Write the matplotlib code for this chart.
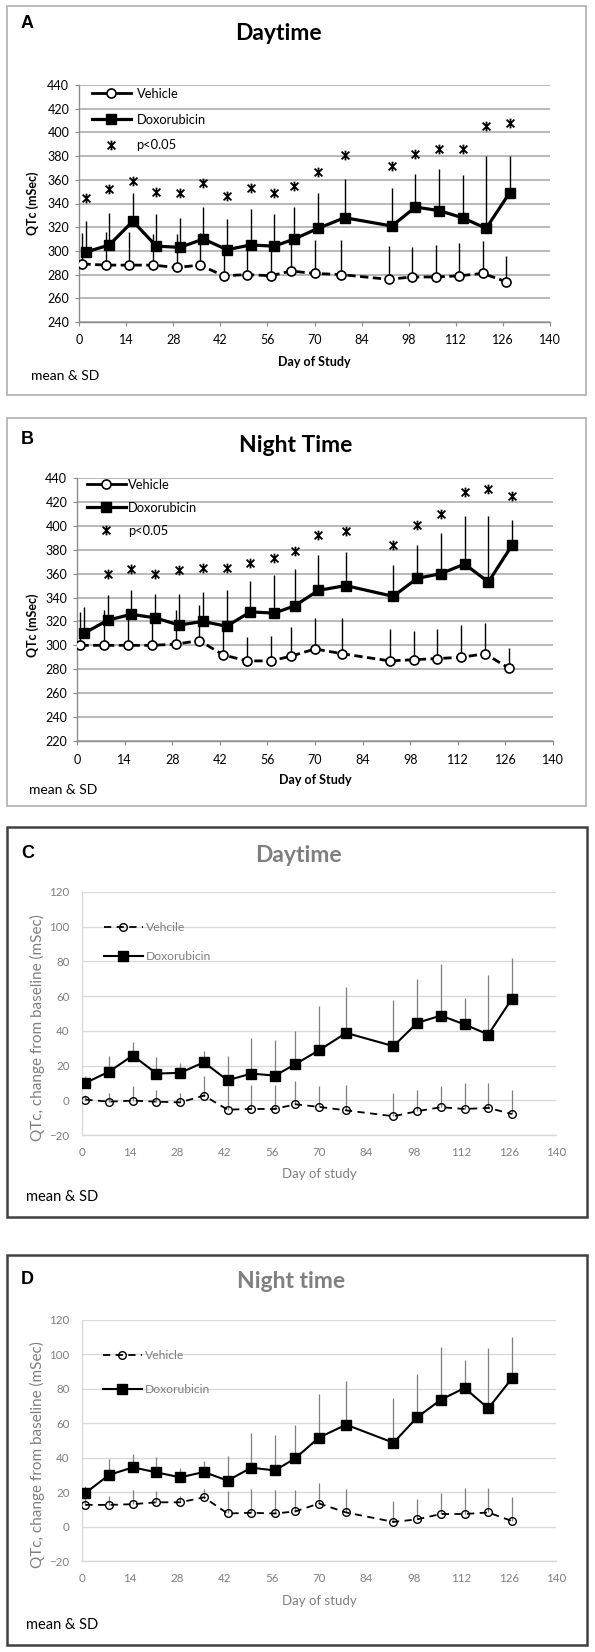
# QTc daytime / night time, 4 panels (A-D)
import matplotlib.pyplot as plt
import numpy as np
from matplotlib.lines import Line2D
from matplotlib.patches import Rectangle
from matplotlib.path import Path

plt.rcParams['font.family'] = ['Lato', 'DejaVu Sans']

# ---- data ----
days_veh = [1, 8, 15, 22, 29, 36, 43, 50, 57, 63, 70, 78, 92, 99, 106, 113, 120, 127]
days_dox = [2, 9, 16, 23, 30, 37, 44, 51, 58, 64, 71, 79, 93, 100, 107, 114, 121, 128]

# A: daytime QTc
a_veh = [289, 288, 288, 288, 286, 288, 279, 280, 279, 283, 281, 280, 276, 278, 278, 279, 281, 274]
a_veh_sd = [26, 28, 28, 26, 28, 27, 21, 24, 24, 24, 28, 29, 28, 25, 27, 28, 27, 22]
a_dox = [299, 305, 325, 304, 303, 310, 301, 305, 304, 310, 319, 328, 321, 337, 334, 328, 319, 349]
a_dox_sd = [26, 27, 24, 27, 25, 27, 26, 30, 27, 27, 30, 33, 32, 28, 35, 36, 61, 31]
a_sig = [345, 352, 359, 350, 349, 357, 346, 353, 349, 355, 367, 381, 372, 382, 386, 386, 405, 408]

# B: night time QTc
b_veh = [300, 300, 300, 300, 301, 304, 292, 287, 287, 291, 297, 293, 287, 288, 289, 290, 293, 281]
b_veh_sd = [28, 30, 25, 25, 29, 30, 23, 20, 21, 24, 26, 30, 27, 24, 25, 27, 26, 17]
b_dox = [310, 321, 326, 323, 317, 320, 316, 328, 327, 333, 346, 350, 341, 356, 360, 368, 353, 384]
b_dox_sd = [22, 21, 20, 20, 26, 25, 30, 26, 32, 31, 30, 28, 26, 28, 34, 40, 55, 21]
b_sig_days = days_dox[1:]
b_sig = [360, 364, 360, 363, 365, 365, 369, 373, 379, 392, 396, 384, 401, 410, 428, 431, 425]

# C: daytime change from baseline
c_veh = [0.4, -0.8, -0.2, -0.8, -1.2, 2.7, -5.4, -5.0, -5.0, -2.3, -3.8, -5.8, -9.2, -6.3, -4.0, -5.0, -4.4, -7.9]
c_veh_sd = [2.6, 4.8, 8.2, 6.8, 5.2, 11.3, 13.4, 14.0, 14.0, 13.3, 11.8, 14.8, 13.2, 12.3, 12.0, 15.0, 14.4, 13.9]
c_dox = [10.0, 16.5, 25.8, 15.4, 15.8, 21.9, 11.5, 15.4, 14.2, 20.8, 28.8, 38.8, 31.2, 44.6, 48.8, 43.7, 37.9, 58.5]
c_dox_sd = [3.8, 9.3, 7.7, 9.4, 5.4, 6.4, 14.3, 20.6, 20.8, 19.4, 25.8, 26.4, 26.3, 25.4, 30.0, 15.5, 34.2, 23.2]

# D: night time change from baseline
d_veh = [12.6, 12.6, 13.0, 14.1, 14.1, 17.0, 7.6, 8.0, 7.6, 8.8, 13.4, 8.2, 2.7, 4.2, 7.3, 7.3, 8.2, 3.2]
d_veh_sd = [5.4, 5.3, 8.0, 6.7, 3.8, 5.0, 13.2, 13.8, 13.6, 12.6, 11.8, 13.6, 12.4, 11.8, 12.0, 15.0, 14.1, 13.8]
d_dox = [19.5, 30.0, 34.4, 31.5, 28.6, 31.7, 26.7, 34.2, 32.6, 39.7, 51.7, 59.2, 48.7, 63.5, 73.7, 80.5, 68.7, 86.1]
d_dox_sd = [3.8, 9.3, 8.0, 9.0, 5.4, 6.3, 14.1, 20.4, 20.6, 19.3, 25.4, 25.5, 25.9, 25.0, 30.6, 16.3, 35.1, 24.0]

xticks = np.arange(0, 141, 14)

# ---- figure in pixel units ----
W, H = 595, 1652
fig = plt.figure(figsize=(W / 100, H / 100), dpi=100)


def fx(x):
    return x / W


def fy(y):
    return 1 - y / H


def frame(l, t, r, b, color, lw):
    fig.add_artist(Rectangle((fx(l), fy(b)), (r - l) / W, (b - t) / H,
                             transform=fig.transFigure, fill=False, ec=color, lw=lw))


def axes_px(l, t, r, b):
    return fig.add_axes([fx(l), fy(b), (r - l) / W, (b - t) / H])


def upper_sd(ax, x, y, sd, color, lw):
    ax.errorbar(x, y, yerr=[np.zeros(len(sd)), sd], fmt='none', ecolor=color,
                elinewidth=lw, capsize=0, zorder=2)


def old_style(ax, ylo, yhi):
    ax.set_xlim(0, 140)
    ax.set_ylim(ylo, yhi)
    ax.set_xticks(xticks)
    ax.set_yticks(np.arange(ylo, yhi + 1, 20))
    ax.grid(axis='y', color='#a6a6a6', lw=1.1)
    ax.set_axisbelow(True)
    for s in ['top', 'right']:
        ax.spines[s].set_visible(False)
    for s in ['left', 'bottom']:
        ax.spines[s].set_color('#8c8c8c')
        ax.spines[s].set_linewidth(1.0)
    ax.tick_params(axis='both', direction='out', length=3, color='#8c8c8c', labelsize=9)
    ax.tick_params(axis='x', pad=6)
    ax.tick_params(axis='y', pad=4)
    ax.set_facecolor('none')


def new_style(ax):
    ax.set_xlim(0, 140)
    ax.set_ylim(-20, 120)
    ax.set_xticks(xticks)
    ax.set_yticks(np.arange(-20, 121, 20))
    ax.grid(axis='y', color='#d9d9d9', lw=1.0)
    ax.set_axisbelow(True)
    for s in ['top', 'right']:
        ax.spines[s].set_visible(False)
    for s in ['left', 'bottom']:
        ax.spines[s].set_color('#d9d9d9')
        ax.spines[s].set_linewidth(1.0)
    ax.tick_params(axis='both', length=0, labelcolor='#7f7f7f', labelsize=8.3)
    ax.tick_params(axis='x', pad=9)
    ax.tick_params(axis='y', pad=9)
    ax.set_facecolor('none')


# asterisk: X with a vertical bar
star = Path([(-1, -1), (1, 1), (-1, 1), (1, -1), (0, -1.25), (0, 1.25)],
            [Path.MOVETO, Path.LINETO, Path.MOVETO, Path.LINETO, Path.MOVETO, Path.LINETO])

veh_old = dict(color='k', lw=2.0, dashes=(3, 1.6), marker='o', ms=6.5,
               mfc='white', mec='k', mew=1.2, zorder=3)
dox_old = dict(color='k', lw=2.3, marker='s', ms=7.5, zorder=4)
sig_old = dict(ls='none', marker=star, ms=7, mec='k', mew=1.3, color='k', zorder=4)

veh_new = dict(color='k', lw=1.3, dashes=(4, 3), marker='o', ms=5.5,
               mfc='none', mec='k', mew=1.0, zorder=3)
dox_new = dict(color='k', lw=1.5, marker='s', ms=6.5, zorder=4)

# ---- panel A ----
frame(7, 6, 586, 395, '#b4b4b4', 1.3)
ax = axes_px(79, 85, 550, 322)
old_style(ax, 240, 440)
upper_sd(ax, days_veh, a_veh, a_veh_sd, 'k', 1.0)
upper_sd(ax, days_dox, a_dox, a_dox_sd, 'k', 1.0)
ax.plot(days_veh, a_veh, **veh_old)
ax.plot(days_dox, a_dox, **dox_old)
ax.plot(days_dox, a_sig, **sig_old)
h_old = [Line2D([], [], color='k', lw=2.0, marker='o', ms=6.5, mfc='white', mec='k', mew=1.2),
         Line2D([], [], color='k', lw=2.3, marker='s', ms=7.5),
         Line2D([], [], ls='none', marker=star, ms=7, mec='k', mew=1.3)]
ax.legend(h_old, ['Vehicle', 'Doxorubicin', 'p<0.05'], loc='upper left',
          bbox_to_anchor=(fx(92), fy(88)), bbox_transform=fig.transFigure,
          frameon=False, fontsize=9.3, handlelength=3.0, handletextpad=0.45,
          labelspacing=1.05, borderpad=0, borderaxespad=0)
fig.text(fx(21), fy(24), 'A', fontsize=13, fontweight='bold', family='Liberation Sans', va='center')
fig.text(fx(278), fy(33), 'Daytime', fontsize=16.5, fontweight='bold', ha='center', va='center')
fig.text(fx(33), fy(203), 'QTc (mSec)', fontsize=9, fontweight='bold', rotation=90, ha='center', va='center')
fig.text(fx(314), fy(362), 'Day of Study', fontsize=9, fontweight='bold', ha='center', va='center')
fig.text(fx(31), fy(376), 'mean & SD', fontsize=10, va='center')

# ---- panel B ----
frame(7, 418, 586, 806, '#b4b4b4', 1.3)
ax = axes_px(77, 478, 553, 741)
old_style(ax, 220, 440)
upper_sd(ax, days_veh, b_veh, b_veh_sd, 'k', 1.0)
upper_sd(ax, days_dox, b_dox, b_dox_sd, 'k', 1.0)
ax.plot(days_veh, b_veh, **veh_old)
ax.plot(days_dox, b_dox, **dox_old)
ax.plot(b_sig_days, b_sig, **sig_old)
ax.legend(h_old, ['Vehicle', 'Doxorubicin', 'p<0.05'], loc='upper left',
          bbox_to_anchor=(fx(87), fy(479)), bbox_transform=fig.transFigure,
          frameon=False, fontsize=9.3, handlelength=3.0, handletextpad=0.2,
          labelspacing=0.85, borderpad=0, borderaxespad=0)
fig.text(fx(21), fy(439), 'B', fontsize=13, fontweight='bold', family='Liberation Sans', va='center')
fig.text(fx(296), fy(445), 'Night Time', fontsize=16.5, fontweight='bold', ha='center', va='center')
fig.text(fx(33), fy(625), 'QTc (mSec)', fontsize=9, fontweight='bold', rotation=90, ha='center', va='center')
fig.text(fx(315), fy(780), 'Day of Study', fontsize=9, fontweight='bold', ha='center', va='center')
fig.text(fx(29), fy(790), 'mean & SD', fontsize=10, va='center')

# ---- panel C ----
frame(7, 827, 587, 1217, '#404040', 1.8)
ax = axes_px(82, 892, 556, 1135)
new_style(ax)
upper_sd(ax, days_veh, c_veh, c_veh_sd, '#7f7f7f', 0.9)
upper_sd(ax, days_veh, c_dox, c_dox_sd, '#7f7f7f', 0.9)
ax.plot(days_veh, c_veh, label='Vehcile', **veh_new)
ax.plot(days_veh, c_dox, label='Doxorubicin', **dox_new)
ax.legend(loc='upper left', bbox_to_anchor=(fx(104), fy(922)), bbox_transform=fig.transFigure,
          frameon=False, fontsize=8.7, labelcolor='#7f7f7f', handlelength=3.2, handletextpad=0.3,
          labelspacing=1.5, borderpad=0, borderaxespad=0)
fig.text(fx(21), fy(854), 'C', fontsize=13, fontweight='bold', family='Liberation Sans', va='center')
fig.text(fx(298), fy(855), 'Daytime', fontsize=16.5, fontweight='bold', color='#7f7f7f', ha='center', va='center')
fig.text(fx(37), fy(1028), 'QTc, change from baseline (mSec)', fontsize=11, color='#7f7f7f',
         rotation=90, ha='center', va='center')
fig.text(fx(319), fy(1174), 'Day of study', fontsize=9.5, color='#7f7f7f', ha='center', va='center')
fig.text(fx(26), fy(1197), 'mean & SD', fontsize=10.5, va='center')

# ---- panel D ----
frame(7, 1255, 587, 1645, '#404040', 1.8)
ax = axes_px(82, 1320, 556, 1561)
new_style(ax)
upper_sd(ax, days_veh, d_veh, d_veh_sd, '#7f7f7f', 0.9)
upper_sd(ax, days_veh, d_dox, d_dox_sd, '#7f7f7f', 0.9)
ax.plot(days_veh, d_veh, label='Vehicle', **veh_new)
ax.plot(days_veh, d_dox, label='Doxorubicin', **dox_new)
ax.legend(loc='upper left', bbox_to_anchor=(fx(103), fy(1350)), bbox_transform=fig.transFigure,
          frameon=False, fontsize=8.7, labelcolor='#7f7f7f', handlelength=3.2, handletextpad=0.3,
          labelspacing=1.9, borderpad=0, borderaxespad=0)
fig.text(fx(21), fy(1279), 'D', fontsize=13, fontweight='bold', family='Liberation Sans', va='center')
fig.text(fx(291), fy(1282), 'Night time', fontsize=16.5, fontweight='bold', color='#7f7f7f', ha='center', va='center')
fig.text(fx(37), fy(1455), 'QTc, change from baseline (mSec)', fontsize=11, color='#7f7f7f',
         rotation=90, ha='center', va='center')
fig.text(fx(319), fy(1601), 'Day of study', fontsize=9.5, color='#7f7f7f', ha='center', va='center')
fig.text(fx(26), fy(1625), 'mean & SD', fontsize=10.5, va='center')

fig.savefig('out.png', dpi=100)
